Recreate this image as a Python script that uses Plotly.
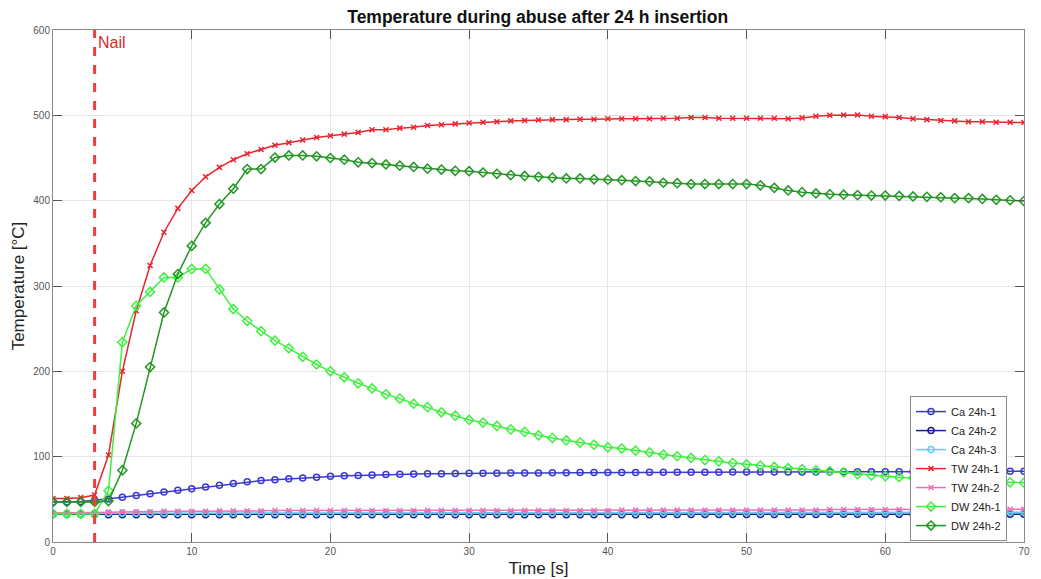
import plotly.graph_objects as go

time_s = list(range(0, 71))

ca_24h_1 = [47, 47, 47.5, 49, 50.5, 52.5, 54.5, 56.5, 58.5, 60.5,
            62.5, 64.5, 66.5, 68.5, 70.5, 72, 73, 74, 75, 76,
            77, 77.5, 78, 78.5, 79, 79.3, 79.7, 80, 80, 80.3,
            80.5, 80.5, 80.7, 80.8, 81, 81, 81.2, 81.2, 81.3, 81.3,
            81.5, 81.5, 81.5, 81.6, 81.6, 81.7, 81.7, 81.8, 81.8, 81.9,
            82, 82, 82, 82, 82.1, 82.1, 82.2, 82.2, 82.2, 82.3,
            82.3, 82.4, 82.4, 82.5, 82.5, 82.6, 82.7, 82.8, 82.8, 82.9, 83]

ca_24h_2 = [32.5, 32.5, 32.5, 32.5, 32, 32, 32, 32, 32, 32,
            32, 32, 32, 32, 32, 32, 32, 32, 32, 32,
            32, 32, 32, 32, 32, 32, 32, 32, 32, 32,
            32, 32, 32, 32, 32, 32, 32, 32, 32, 32,
            32, 32, 32, 32, 32.2, 32.2, 32.2, 32.2, 32.2, 32.2,
            32.3, 32.3, 32.3, 32.3, 32.3, 32.3, 32.4, 32.4, 32.4, 32.4,
            32.5, 32.5, 32.5, 32.5, 32.5, 32.5, 32.5, 32.5, 32.5, 32.5, 32.5]

ca_24h_3 = [33.5, 33.5, 33.5, 33.5, 34, 34, 34, 34, 34, 34,
            34, 34, 34, 34, 34, 34, 34, 34, 34, 34,
            34, 34, 34, 34, 34.2, 34.2, 34.2, 34.2, 34.2, 34.3,
            34.3, 34.3, 34.3, 34.3, 34.4, 34.4, 34.4, 34.4, 34.4, 34.4,
            34.5, 34.5, 34.5, 34.5, 34.5, 34.5, 34.5, 34.5, 34.5, 34.5,
            34.6, 34.6, 34.6, 34.6, 34.6, 34.6, 34.7, 34.7, 34.7, 34.7,
            34.8, 34.8, 34.8, 34.8, 34.8, 34.8, 34.9, 34.9, 34.9, 34.9, 35]

tw_24h_1 = [51, 51, 52, 55, 102, 200, 271, 324, 363, 391,
            412, 428, 439, 448, 455, 460, 465, 468, 471, 474,
            476, 478, 480, 483, 483, 485, 486, 488, 489, 490,
            491, 492, 492.5, 493.5, 494, 494.5, 495, 495, 495.5, 495.5,
            496, 496, 496, 496, 496.5, 496.5, 497.5, 497.5, 496.5, 496.5,
            496.5, 496.5, 496.5, 496, 497, 499, 500, 500.5, 500.5, 499,
            498.5, 497.5, 496, 495, 494, 493.5, 492.5, 492.5, 492, 492, 491.5]

tw_24h_2 = [34, 34, 34, 34.5, 35, 35.5, 35.5, 35.5, 36, 36,
            36, 36, 36.5, 36.5, 36.5, 36.5, 37, 37, 37, 37,
            37, 37, 37, 37, 37, 37, 37, 37, 37, 37,
            37, 37, 37, 37, 37, 37, 37, 37, 37, 37,
            37, 37.5, 37.5, 37.5, 37.5, 37.5, 37.5, 37.5, 37.5, 37.5,
            37.5, 37.5, 37.5, 37.5, 37.5, 37.5, 38, 38, 38, 38,
            38, 38, 38, 38, 38, 38, 38, 38.2, 38.2, 38.3, 38.5]

dw_24h_1 = [33, 33, 33, 33, 60, 234, 277, 293, 310, 310,
            320, 320, 296, 273, 259, 247, 236, 227, 217, 208,
            200, 193, 186, 180, 173, 168, 162, 158, 152, 148,
            143, 140, 136, 132, 129, 125, 122, 119, 116.5, 114,
            111, 109.5, 107, 105, 102.5, 100.5, 98.5, 96, 94.5, 92.5,
            91, 89.5, 88, 86.5, 85.5, 84, 83, 81.5, 79.5, 78,
            77, 76, 75, 74, 73.5, 72.5, 72, 71, 70.5, 70, 69.5]

dw_24h_2 = [47, 47, 47, 47, 48, 84, 139, 205, 269, 314,
            347, 374, 396, 414, 437, 437, 450.5, 453, 453, 452,
            450, 448, 445, 444, 442.5, 441, 439.5, 437.5, 436.5, 435,
            434.5, 433, 431.5, 430, 429, 428, 427, 426, 426, 425,
            424.5, 424, 423, 422.5, 421, 420.5, 419.5, 419.5, 419.5, 419.5,
            419.5, 418, 415, 412, 410, 408.5, 407.5, 407, 406.5, 406,
            406, 405.5, 405, 404.5, 404, 403, 403, 402, 401, 400.5, 399.5]

nail_time = 3
nail_label = "Nail"

x_ticks = [0, 10, 20, 30, 40, 50, 60, 70]
y_ticks = [0, 100, 200, 300, 400, 500, 600]

series = [
    ("Ca 24h-1", ca_24h_1, "#3a3ad2", "circle-open", 6),
    ("Ca 24h-2", ca_24h_2, "#1e1e8a", "circle-open", 6),
    ("Ca 24h-3", ca_24h_3, "#5cd0ef", "circle-open", 6),
    ("TW 24h-1", tw_24h_1, "#e8262e", "x-thin-open", 5),
    ("TW 24h-2", tw_24h_2, "#ef70b4", "x-thin-open", 5),
    ("DW 24h-1", dw_24h_1, "#3ff03f", "diamond-open", 7),
    ("DW 24h-2", dw_24h_2, "#239623", "diamond-open", 7),
]

FONT = "Liberation Sans, Arial, sans-serif"

fig = go.Figure()
for name, vals, color, sym, size in series:
    fig.add_trace(go.Scatter(
        x=time_s, y=vals, name=name, mode="lines+markers",
        line=dict(color=color, width=1.5),
        marker=dict(symbol=sym, size=size, color=color, line=dict(color=color, width=1.5)),
    ))

fig.add_shape(type="line", xref="x", yref="y",
              x0=nail_time, x1=nail_time, y0=y_ticks[0], y1=y_ticks[-1],
              line=dict(color="#f03c3c", width=3, dash="dash"))
fig.add_annotation(x=nail_time, y=y_ticks[-1], xref="x", yref="y",
                   text=nail_label, showarrow=False, xanchor="left", yanchor="top",
                   xshift=1, yshift=-2,
                   font=dict(family=FONT, size=16, color="#e02828"))

axis_common = dict(
    showgrid=True, gridcolor="#e6e6e6", gridwidth=1,
    showline=True, linecolor="#8a8a8a", linewidth=1, mirror="ticks",
    ticks="inside", ticklen=9, tickcolor="#555555", tickwidth=1,
    tickfont=dict(family=FONT, size=10, color="#555555"),
    zeroline=False, automargin=False,
)

fig.update_layout(
    width=1041, height=579,
    margin=dict(l=53, r=17, t=30, b=37),
    paper_bgcolor="white", plot_bgcolor="white",
    title=dict(text="<b>Temperature during abuse after 24 h insertion</b>",
               x=0.5165, xanchor="center", y=0.9715, yanchor="middle",
               font=dict(family=FONT, size=17.5, color="#111111")),
    xaxis=dict(range=[0, 70], tickvals=x_ticks,
               title=dict(text="Time [s]", standoff=6,
                          font=dict(family=FONT, size=17, color="#222222")),
               **axis_common),
    yaxis=dict(range=[0, 600], tickvals=y_ticks,
               title=dict(text="Temperature [°C]", standoff=4,
                          font=dict(family=FONT, size=17, color="#222222")),
               **axis_common),
    legend=dict(x=0.9825, xanchor="right", y=0.285, yanchor="top",
                bgcolor="white", bordercolor="#8a8a8a", borderwidth=1,
                font=dict(family=FONT, size=11, color="#222222"),
                tracegroupgap=0, itemwidth=30),
    showlegend=True,
)

fig.write_html(
    "out.html",
    config={"displayModeBar": False},
    post_script="document.body.style.margin='0';document.body.style.overflow='hidden';",
)
